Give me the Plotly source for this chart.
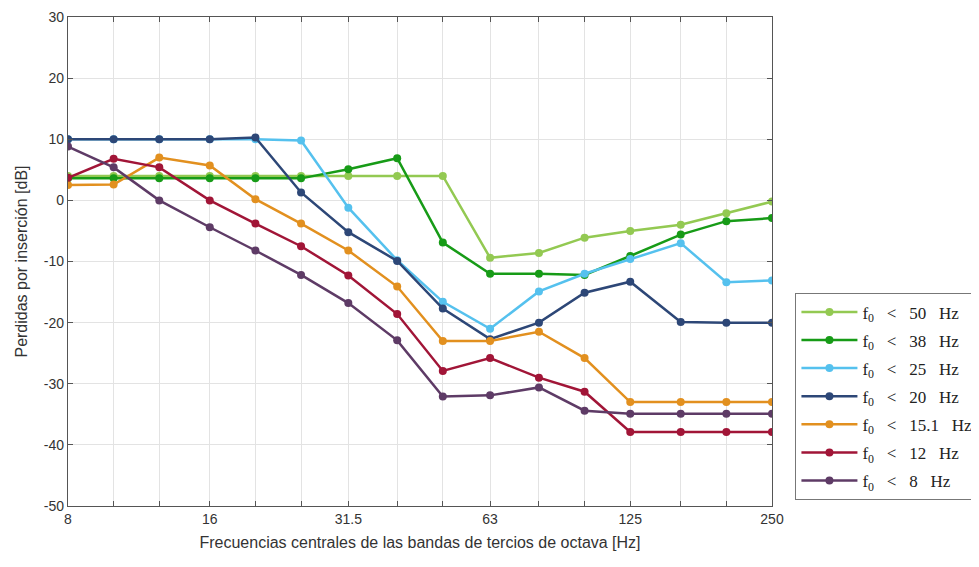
import plotly.graph_objects as go

freqs = [8, 10, 12.5, 16, 20, 25, 31.5, 40, 50, 63, 80, 100, 125, 160, 200, 250]
label_freqs = [8, 16, 31.5, 63, 125, 250]
label_texts = ["8", "16", "31.5", "63", "125", "250"]
y_ticks = [30, 20, 10, 0, -10, -20, -30, -40, -50]
y_tick_texts = ["30", "20", "10", "0", "-10", "-20", "-30", "-40", "-50"]

sp = "&nbsp;&nbsp;&nbsp;"
series_names = [f"f<sub>0</sub>{sp}&lt;{sp}{v}{sp}Hz" for v in ["50", "38", "25", "20", "15.1", "12", "8"]]

f50 = [4.0, 4.0, 4.0, 4.0, 4.0, 4.0, 4.0, 4.0, 4.0, -9.4, -8.6, -6.1, -5.0, -4.0, -2.1, -0.2]
f38 = [3.6, 3.6, 3.6, 3.6, 3.6, 3.6, 5.1, 6.9, -6.9, -12.0, -12.0, -12.2, -9.1, -5.6, -3.4, -2.9]
f25 = [10.0, 10.0, 10.0, 10.0, 10.0, 9.8, -1.2, -9.8, -16.6, -21.0, -14.9, -12.0, -9.6, -7.0, -13.4, -13.1]
f20 = [10.0, 10.0, 10.0, 10.0, 10.3, 1.3, -5.2, -9.9, -17.7, -22.7, -20.0, -15.1, -13.3, -19.9, -20.0, -20.0]
f15 = [2.5, 2.6, 7.0, 5.7, 0.2, -3.8, -8.2, -14.1, -23.0, -23.0, -21.5, -25.8, -33.0, -33.0, -33.0, -33.0]
f12 = [3.7, 6.8, 5.4, 0.0, -3.8, -7.5, -12.3, -18.6, -27.9, -25.8, -29.0, -31.3, -37.9, -37.9, -37.9, -37.9]
f8 = [8.8, 5.4, 0.0, -4.4, -8.2, -12.2, -16.8, -22.9, -32.1, -31.9, -30.6, -34.4, -34.9, -34.9, -34.9, -34.9]

all_series = [f50, f38, f25, f20, f15, f12, f8]
colors = ["#93c952", "#179b17", "#55c1ee", "#2d4777", "#e2901f", "#a11537", "#5e3b66"]

fig = go.Figure()
for i, (name, vals, col) in enumerate(zip(series_names, all_series, colors)):
    fig.add_trace(go.Scatter(
        x=freqs, y=vals, name=name, mode="lines+markers", legendgroup=f"g{i}",
        line=dict(color=col, width=2.5),
        marker=dict(color=col, size=8),
    ))

axis_common = dict(
    showline=True, linecolor="#555555", linewidth=1.2, mirror="allticks",
    ticks="inside", ticklen=5, tickcolor="#555555",
    showgrid=True, gridcolor="#e3e3e3", gridwidth=1, zeroline=False,
    automargin=False, ticklabeloverflow="allow",
    tickfont=dict(family="Liberation Sans Narrow, Liberation Sans, Arial", size=14, color="#333333"),
)

fig.update_xaxes(
    type="log", range=[0.90309, 2.39794],
    tickmode="array", tickvals=label_freqs, ticktext=label_texts,
    minor=dict(tickmode="array", tickvals=freqs, ticks="inside", ticklen=5, tickcolor="#555555",
               showgrid=True, gridcolor="#e3e3e3", gridwidth=1),
    title=dict(text="Frecuencias centrales de las bandas de tercios de octava [Hz]",
               font=dict(family="Liberation Sans, Arial", size=16, color="#333333"), standoff=10),
    **axis_common,
)
fig.update_yaxes(
    range=[-50, 30], tickmode="array", tickvals=y_ticks, ticktext=y_tick_texts,
    title=dict(text="Perdidas por inserción [dB]",
               font=dict(family="Liberation Sans, Arial", size=16, color="#333333"), standoff=12),
    **axis_common,
)

fig.update_layout(
    width=971, height=559,
    margin=dict(l=60, r=207, t=9, b=61, autoexpand=False),
    plot_bgcolor="white", paper_bgcolor="white",
    legend=dict(
        x=1.033, y=0.012, xanchor="left", yanchor="bottom",
        bgcolor="white", bordercolor="#777777", borderwidth=1.2,
        font=dict(family="Liberation Serif, DejaVu Serif, serif", size=17, color="#222222"),
        tracegroupgap=3, itemwidth=56,
    ),
    showlegend=True,
)

fig.write_html("out.html")
